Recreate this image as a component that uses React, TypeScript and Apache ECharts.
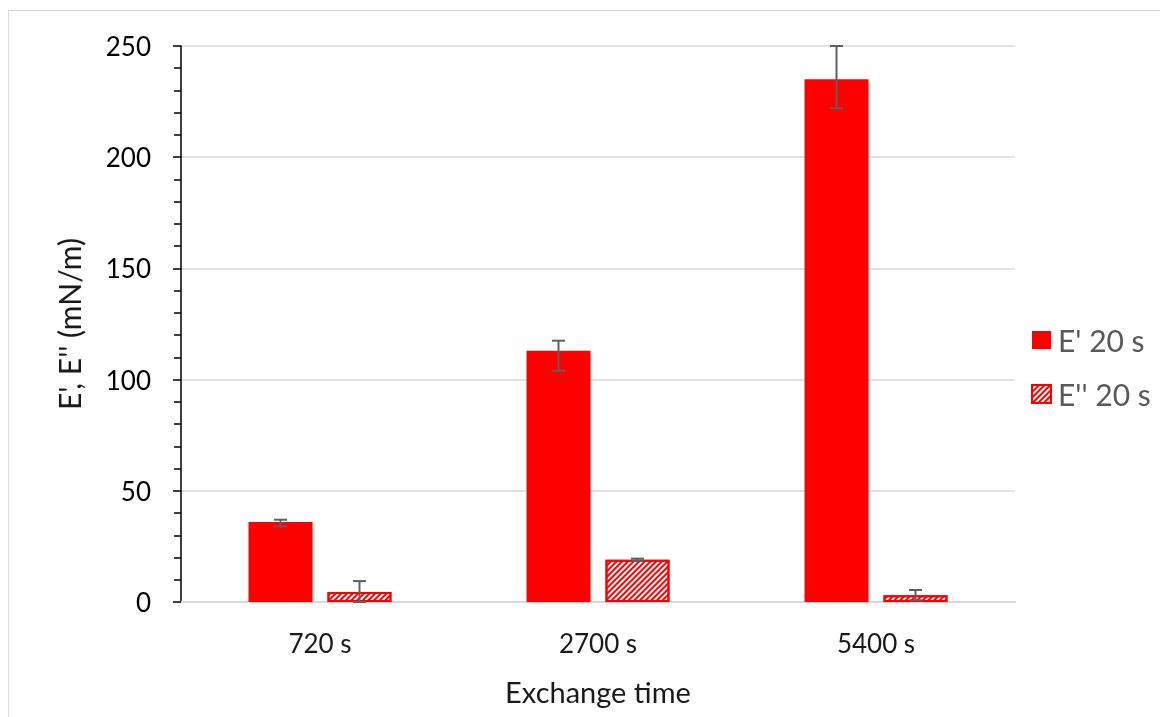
import React, { useEffect, useRef } from "react";
import * as echarts from "echarts";

const categories = ["720 s", "2700 s", "5400 s"];
const ePrime = [36, 113, 235];
const ePrimeLow = [34, 104, 222];
const ePrimeHigh = [37, 117.5, 250];
const eDouble = [4.5, 19, 3];
const eDoubleLow = [0, 18.5, 0.8];
const eDoubleHigh = [9.4, 19.5, 5.4];
const yTicks = { min: 0, max: 250, interval: 50 };

const FONT = "Lato";

export default function App() {
  const ref = useRef<HTMLDivElement>(null);
  useEffect(() => {
    document.body.style.margin = "0";
    const chart = echarts.init(ref.current!, null, { renderer: "svg" });
    const BAR_W = 64;
    const OFFSET = 39.5;
    const errSeries = (name: string, low: number[], high: number[], dir: number) => ({
      type: "custom",
      name: name + "-err",
      silent: true,
      z: 10,
      data: categories.map((c, i) => [i, low[i], high[i]]),
      renderItem: (params: any, api: any) => {
        const i = api.value(0);
        const pLo = api.coord([i, api.value(1)]);
        const pHi = api.coord([i, api.value(2)]);
        const x = pLo[0] + dir * OFFSET;
        const cap = 6.5;
        const style = { stroke: "#5f5f5f", lineWidth: 2 };
        return {
          type: "group",
          children: [
            { type: "line", shape: { x1: x, y1: pLo[1], x2: x, y2: pHi[1] }, style },
            { type: "line", shape: { x1: x - cap, y1: pHi[1], x2: x + cap, y2: pHi[1] }, style },
            { type: "line", shape: { x1: x - cap, y1: pLo[1], x2: x + cap, y2: pLo[1] }, style },
          ],
        };
      },
    });
    chart.setOption({
      animation: false,
      textStyle: { fontFamily: FONT },
      grid: { left: 181, right: 145, top: 46, bottom: 115 },
      graphic: [
        {
          type: "rect",
          shape: { x: 8.5, y: 10.5, width: 1300, height: 900 },
          style: { fill: "none", stroke: "#d9d9d9", lineWidth: 1 },
          silent: true,
          z: -10,
        },
      ],
      legend: {
        orient: "vertical",
        left: 1026,
        top: 320,
        itemWidth: 19,
        itemHeight: 18,
        itemGap: 24,
        icon: "rect",
        textStyle: { fontFamily: FONT, fontSize: 30, color: "#595959", padding: [0, 0, 0, 2] },
        data: ["E' 20 s", "E'' 20 s"],
      },
      xAxis: {
        type: "category",
        data: categories,
        name: "Exchange time",
        nameLocation: "middle",
        nameGap: 75,
        nameTextStyle: { fontFamily: FONT, fontSize: 29, color: "#1a1a1a" },
        axisLine: { show: true, lineStyle: { color: "#d9d9d9", width: 2 } },
        axisTick: { show: false },
        axisLabel: { fontFamily: FONT, fontSize: 26, color: "#1a1a1a", margin: 28 },
      },
      yAxis: {
        type: "value",
        min: yTicks.min,
        max: yTicks.max,
        interval: yTicks.interval,
        name: "E', E'' (mN/m)",
        nameLocation: "middle",
        nameGap: 97,
        nameTextStyle: { fontFamily: FONT, fontSize: 30, color: "#1a1a1a" },
        axisLine: { show: true, lineStyle: { color: "#000", width: 1.5 } },
        axisTick: { show: true, inside: false, length: 8, lineStyle: { color: "#000", width: 1.5 } },
        minorTick: { show: true, splitNumber: 5, length: 7, lineStyle: { color: "#000", width: 1.5 } },
        splitLine: { show: true, lineStyle: { color: "#d9d9d9", width: 1.5 } },
        axisLabel: { fontFamily: FONT, fontSize: 26, color: "#000", margin: 30 },
      },
      series: [
        {
          type: "bar",
          name: "E' 20 s",
          data: ePrime,
          barWidth: BAR_W,
          barGap: "23.4%",
          itemStyle: { color: "#ff0000" },
        },
        {
          type: "bar",
          name: "E'' 20 s",
          data: eDouble,
          barWidth: BAR_W,
          itemStyle: {
            color: "#ffffff",
            borderColor: "#ff0000",
            borderWidth: 2,
            decal: {
              symbol: "rect",
              symbolSize: 1,
              color: "#ff0000",
              backgroundColor: "#ffffff",
              dashArrayX: [[1, 0]],
              dashArrayY: [1.2, 1.5],
              rotation: -Math.PI / 4,
            },
          },
        },
        errSeries("E' 20 s", ePrimeLow, ePrimeHigh, -1),
        errSeries("E'' 20 s", eDoubleLow, eDoubleHigh, 1),
      ],
    });
    return () => chart.dispose();
  }, []);
  return (
    <div
      ref={ref}
      style={{ position: "fixed", left: 0, top: 0, width: 1160, height: 717 }}
    />
  );
}
